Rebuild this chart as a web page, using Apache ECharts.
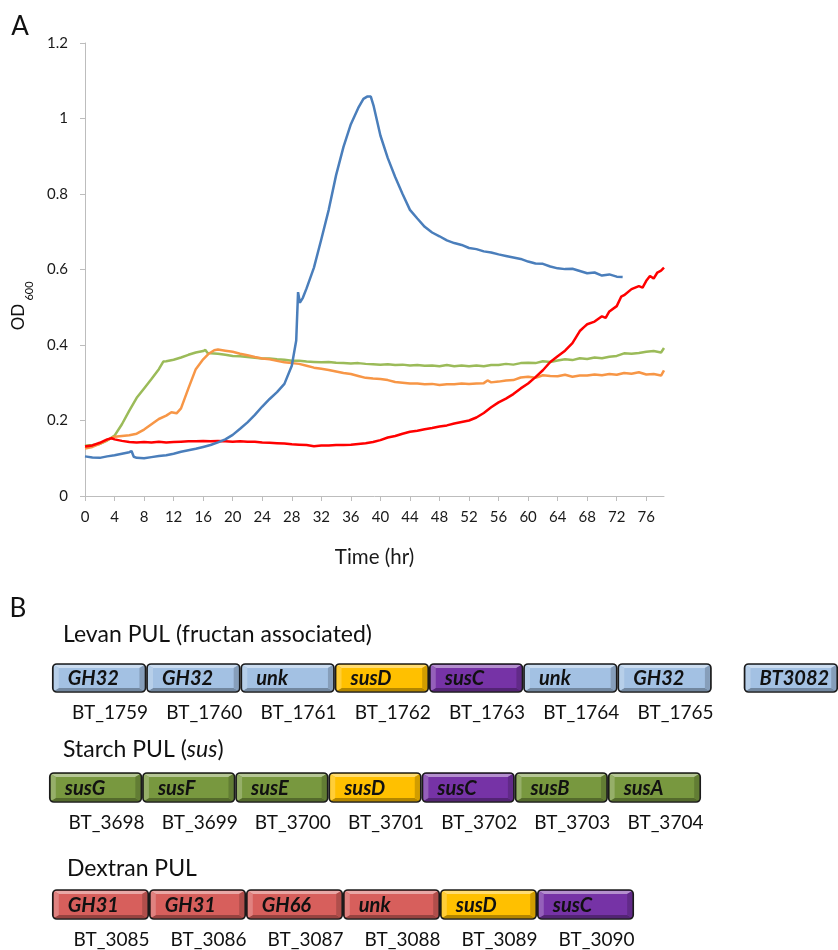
<!DOCTYPE html>
<html><head><meta charset="utf-8">
<script src="https://cdn.jsdelivr.net/npm/echarts@6/dist/echarts.min.js"></script>
<style>html,body{margin:0;padding:0;background:#fff}#c{width:838px;height:950px}</style>
</head><body><div id="c"></div><script>
// ---------- Panel A data: [hour, OD600] ----------
const xTickLabels = [0,4,8,12,16,20,24,28,32,36,40,44,48,52,56,60,64,68,72,76];
const yTickLabels = [0,0.2,0.4,0.6,0.8,1,1.2];

const greenSeries = [[0,.133],[1,.135],[2,.138],[3,.147],[4,.160],[5,.190],[6,.226],[7,.260],[8,.285],[9,.310],[10,.336],[10.6,.356],[11,.357],[12,.361],[13,.367],[14,.374],[15,.380],[16,.384],[16.3,.387],[16.6,.379],[17,.378],[18,.377],[19,.374],[20,.371],[21,.370],[22,.368],[23,.366],[24,.364],[25,.364],[26,.362],[27,.361],[28,.358],[29,.358],[30,.356],[31,.355],[32,.354],[33,.355],[34,.353],[35,.352],[36,.351],[37,.352],[38,.350],[39,.349],[40,.348],[41,.349],[42,.347],[43,.348],[44,.346],[45,.347],[46,.345],[47,.346],[48,.344],[49,.347],[50,.344],[51,.346],[52,.344],[53,.346],[54,.344],[55,.347],[56,.347],[57,.350],[58,.348],[59,.352],[60,.353],[61,.352],[62,.357],[63,.355],[64,.359],[65,.362],[66,.360],[67,.365],[68,.363],[69,.367],[70,.365],[71,.369],[72,.371],[73,.378],[74,.377],[75,.379],[76,.382],[77,.384],[78,.380],[78.4,.392]];

const orangeSeries = [[0,.126],[1,.130],[2,.138],[3,.148],[4,.157],[5,.159],[6,.161],[7,.165],[8,.176],[9,.190],[10,.204],[11,.213],[11.7,.222],[12.4,.219],[13,.232],[14,.285],[15,.336],[16,.362],[16.7,.376],[17.5,.386],[18,.388],[19,.385],[20,.382],[21,.377],[22,.373],[23,.368],[24,.364],[25,.362],[26,.358],[27,.354],[28,.352],[29,.350],[30,.345],[31,.340],[32,.337],[33,.334],[34,.330],[35,.326],[36,.323],[37,.318],[38,.313],[39,.311],[40,.310],[41,.307],[42,.302],[43,.300],[44,.298],[45,.298],[46,.296],[47,.297],[48,.294],[49,.296],[50,.296],[51,.298],[52,.297],[53,.298],[54,.299],[54.5,.306],[55,.301],[56,.303],[57,.306],[58,.307],[59,.314],[60,.316],[61,.313],[62,.320],[63,.318],[64,.317],[65,.321],[66,.316],[67,.319],[68,.319],[69,.322],[70,.320],[71,.323],[72,.321],[73,.326],[74,.324],[75,.328],[76,.322],[77,.323],[78,.319],[78.4,.333]];

const redSeries = [[0,.131],[1,.134],[2,.141],[3,.150],[3.6,.153],[4,.150],[5,.146],[6,.143],[7,.142],[8,.143],[9,.142],[10,.144],[11,.142],[12,.143],[13,.144],[14,.145],[15,.145],[16,.146],[17,.145],[18,.146],[19,.145],[20,.144],[21,.145],[22,.144],[23,.144],[24,.142],[25,.141],[26,.140],[27,.139],[28,.137],[29,.136],[30,.135],[31,.132],[32,.134],[33,.134],[34,.135],[35,.135],[36,.136],[37,.138],[38,.140],[39,.143],[40,.148],[41,.155],[42,.159],[43,.165],[44,.170],[45,.173],[46,.177],[47,.180],[48,.184],[49,.187],[50,.192],[51,.196],[52,.200],[53,.208],[54,.220],[55,.235],[56,.248],[57,.258],[58,.270],[59,.285],[60,.298],[61,.315],[62,.333],[63,.355],[64,.370],[65,.385],[66,.405],[67,.437],[67.6,.448],[68,.455],[69,.462],[70,.476],[70.5,.472],[71,.489],[72,.503],[72.6,.528],[73,.532],[74,.548],[75,.556],[75.5,.552],[76,.570],[76.5,.583],[77,.576],[77.5,.592],[78,.597],[78.4,.605]];

const blueSeries = [[0,.105],[1,.102],[2,.101],[3,.105],[4,.108],[5,.112],[6,.116],[6.3,.119],[6.6,.104],[7,.101],[8,.100],[9,.103],[10,.106],[11,.108],[12,.112],[13,.117],[14,.121],[15,.125],[16,.130],[17,.135],[18,.142],[19,.150],[20,.162],[21,.178],[22,.195],[23,.215],[24,.237],[25,.257],[26,.275],[27,.297],[28,.345],[28.6,.412],[28.85,.540],[29.1,.512],[29.5,.525],[30,.550],[31,.605],[32,.680],[33,.758],[34,.850],[35,.925],[36,.985],[37,1.028],[37.7,1.052],[38.2,1.058],[38.7,1.058],[39.1,1.032],[40,.955],[41,.895],[42,.845],[43,.800],[44,.758],[45,.735],[46,.713],[47,.698],[48,.688],[49,.677],[50,.670],[51,.665],[52,.657],[53,.654],[54,.648],[55,.645],[56,.640],[57,.636],[58,.632],[59,.628],[60,.621],[61,.616],[62,.615],[63,.608],[64,.603],[65,.601],[66,.602],[67,.596],[68,.590],[69,.592],[70,.584],[71,.587],[72,.581],[72.8,.580]];

// ---------- Panel B data: gene clusters ----------
const levanGenes  = ['GH32','GH32','unk','susD','susC','unk','GH32','BT3082'];
const levanLoci   = ['BT_1759','BT_1760','BT_1761','BT_1762','BT_1763','BT_1764','BT_1765',''];
const levanKinds  = ['blue','blue','blue','yellow','purple','blue','blue','blue'];
const levanSlots  = [0,1,2,3,4,5,6,7.34];

const starchGenes = ['susG','susF','susE','susD','susC','susB','susA'];
const starchLoci  = ['BT_3698','BT_3699','BT_3700','BT_3701','BT_3702','BT_3703','BT_3704'];
const starchKinds = ['green','green','green','yellow','purple','green','green'];
const starchSlots = [0,1,2,3,4,5,6];

const dextranGenes = ['GH31','GH31','GH66','unk','susD','susC'];
const dextranLoci  = ['BT_3085','BT_3086','BT_3087','BT_3088','BT_3089','BT_3090'];
const dextranKinds = ['red','red','red','red','yellow','purple'];
const dextranSlots = [0,1,2,3,4,5];

// ---------- styling ----------
const FONT = 'Lato, "Open Sans", sans-serif';
const boxColors = {blue:'#a3c1e3', yellow:'#ffc000', purple:'#7633a6', green:'#78983f', red:'#d75f5c'};
function shade(hex, amt){
  const n = parseInt(hex.slice(1),16);
  let r=(n>>16)&255, g=(n>>8)&255, b=n&255;
  const t = amt>0?255:0, p=Math.abs(amt);
  r=Math.round(r+(t-r)*p); g=Math.round(g+(t-g)*p); b=Math.round(b+(t-b)*p);
  return 'rgb('+r+','+g+','+b+')';
}
function geneRenderer(names, loci, kinds){
  return function(params, api){
    const i = params.dataIndex;
    const s = api.value(0);
    const a = api.coord([s, 1]), b = api.coord([s + 1, 0]);
    const x0=a[0]+0.8, y0=a[1], x1=b[0]-0.8, y1=b[1];
    const c = boxColors[kinds[i]];
    const bw=6, bh=4;
    const children = [
      {type:'rect', shape:{x:x0,y:y0,width:x1-x0,height:y1-y0,r:4}, style:{fill:c}},
      {type:'polygon', shape:{points:[[x0+1,y0+1],[x1-1,y0+1],[x1-bw,y0+bh],[x0+bw,y0+bh]]}, style:{fill:shade(c,0.45)}},
      {type:'polygon', shape:{points:[[x0+1,y1-1],[x1-1,y1-1],[x1-bw,y1-bh],[x0+bw,y1-bh]]}, style:{fill:shade(c,-0.3)}},
      {type:'polygon', shape:{points:[[x0+1,y0+1],[x0+bw,y0+bh],[x0+bw,y1-bh],[x0+1,y1-1]]}, style:{fill:shade(c,0.22)}},
      {type:'polygon', shape:{points:[[x1-1,y0+1],[x1-bw,y0+bh],[x1-bw,y1-bh],[x1-1,y1-1]]}, style:{fill:shade(c,-0.18)}},
      {type:'rect', shape:{x:x0,y:y0,width:x1-x0,height:y1-y0,r:4}, style:{fill:'transparent', stroke:'#1b1b1b', lineWidth:1.7}},
      {type:'text', x:x0+15, y:(y0+y1)/2+1, style:{text:names[i], fontFamily:FONT, fontSize:20, fontWeight:'bold', fontStyle:'italic', fill:'#111', align:'left', verticalAlign:'middle'}}
    ];
    if (loci[i]) children.push({type:'text', x:(x0+x1)/2+11, y:y1+21, style:{text:loci[i], fontFamily:FONT, fontSize:19, fill:'#111', align:'center', verticalAlign:'middle'}});
    return {type:'group', children};
  };
}
function hiddenAxis(max, gi){ return {type:'value', min:0, max:max, gridIndex:gi, show:false}; }

const chart = echarts.init(document.getElementById('c'), null, {renderer:'canvas'});
const axisGray = '#bdbdbd';
const lineSeries = (data, color) => ({type:'line', data:data, xAxisIndex:0, yAxisIndex:0, showSymbol:false, symbol:'none', smooth:false, lineStyle:{color:color, width:2.5}, itemStyle:{color:color}, animation:false, z:3});

chart.setOption({
  backgroundColor:'#fff',
  animation:false,
  textStyle:{fontFamily:FONT},
  grid:[
    {left:85, top:43, width:579, height:453},
    {left:52, top:664, width:95*8.34, height:28},
    {left:49, top:773, width:652, height:29},
    {left:52, top:890, width:582, height:29}
  ],
  xAxis:[
    {type:'value', gridIndex:0, min:0, max:78.4,
     axisLine:{show:true, lineStyle:{color:axisGray, width:1}},
     axisTick:{show:true, customValues:xTickLabels, length:5, lineStyle:{color:axisGray}},
     axisLabel:{customValues:xTickLabels, color:'#1a1a1a', fontSize:15, fontFamily:FONT, margin:14},
     splitLine:{show:false},
     name:'Time (hr)', nameLocation:'middle', nameGap:51,
     nameTextStyle:{fontSize:20.5, color:'#1a1a1a', fontFamily:FONT}},
    hiddenAxis(8.34,1), hiddenAxis(7,2), hiddenAxis(6,3)
  ],
  yAxis:[
    {type:'value', gridIndex:0, min:0, max:1.2, interval:0.2,
     axisLine:{show:true, lineStyle:{color:axisGray, width:1}},
     axisTick:{show:true, length:5, lineStyle:{color:axisGray}},
     axisLabel:{customValues:yTickLabels, color:'#1a1a1a', fontSize:15, fontFamily:FONT, margin:17},
     splitLine:{show:false}},
    hiddenAxis(1,1), hiddenAxis(1,2), hiddenAxis(1,3)
  ],
  graphic:[
    {type:'text', x:20, y:27, style:{text:'A', fontFamily:FONT, fontSize:26, fill:'#111', align:'center', verticalAlign:'middle'}},
    {type:'text', x:18, y:609, style:{text:'B', fontFamily:FONT, fontSize:26, fill:'#111', align:'center', verticalAlign:'middle'}},
    {type:'text', x:19, y:317, rotation:Math.PI/2, style:{text:'OD', fontFamily:FONT, fontSize:17, fill:'#111', align:'center', verticalAlign:'middle'}},
    {type:'text', x:29, y:291, rotation:Math.PI/2, style:{text:'600', fontFamily:FONT, fontSize:11, fill:'#111', align:'center', verticalAlign:'middle'}},
    {type:'text', x:63, y:635, style:{text:'Levan PUL (fructan associated)', fontFamily:FONT, fontSize:23, fill:'#111', align:'left', verticalAlign:'middle'}},
    {type:'text', x:63, y:750, style:{text:'Starch PUL ({i|sus})', fontFamily:FONT, fontSize:23, fill:'#111', align:'left', verticalAlign:'middle',
      rich:{i:{fontFamily:FONT, fontSize:23, fontStyle:'italic', fill:'#111'}}}},
    {type:'text', x:67, y:869, style:{text:'Dextran PUL', fontFamily:FONT, fontSize:23, fill:'#111', align:'left', verticalAlign:'middle'}}
  ],
  series:[
    lineSeries(greenSeries, '#9bbb59'),
    lineSeries(orangeSeries, '#f79646'),
    lineSeries(redSeries, '#ff0000'),
    lineSeries(blueSeries, '#4a7ebb'),
    {type:'custom', xAxisIndex:1, yAxisIndex:1, clip:false, renderItem:geneRenderer(levanGenes, levanLoci, levanKinds), data:levanSlots.map(s=>[s,0])},
    {type:'custom', xAxisIndex:2, yAxisIndex:2, clip:false, renderItem:geneRenderer(starchGenes, starchLoci, starchKinds), data:starchSlots.map(s=>[s,0])},
    {type:'custom', xAxisIndex:3, yAxisIndex:3, clip:false, renderItem:geneRenderer(dextranGenes, dextranLoci, dextranKinds), data:dextranSlots.map(s=>[s,0])}
  ]
});
</script></body></html>
